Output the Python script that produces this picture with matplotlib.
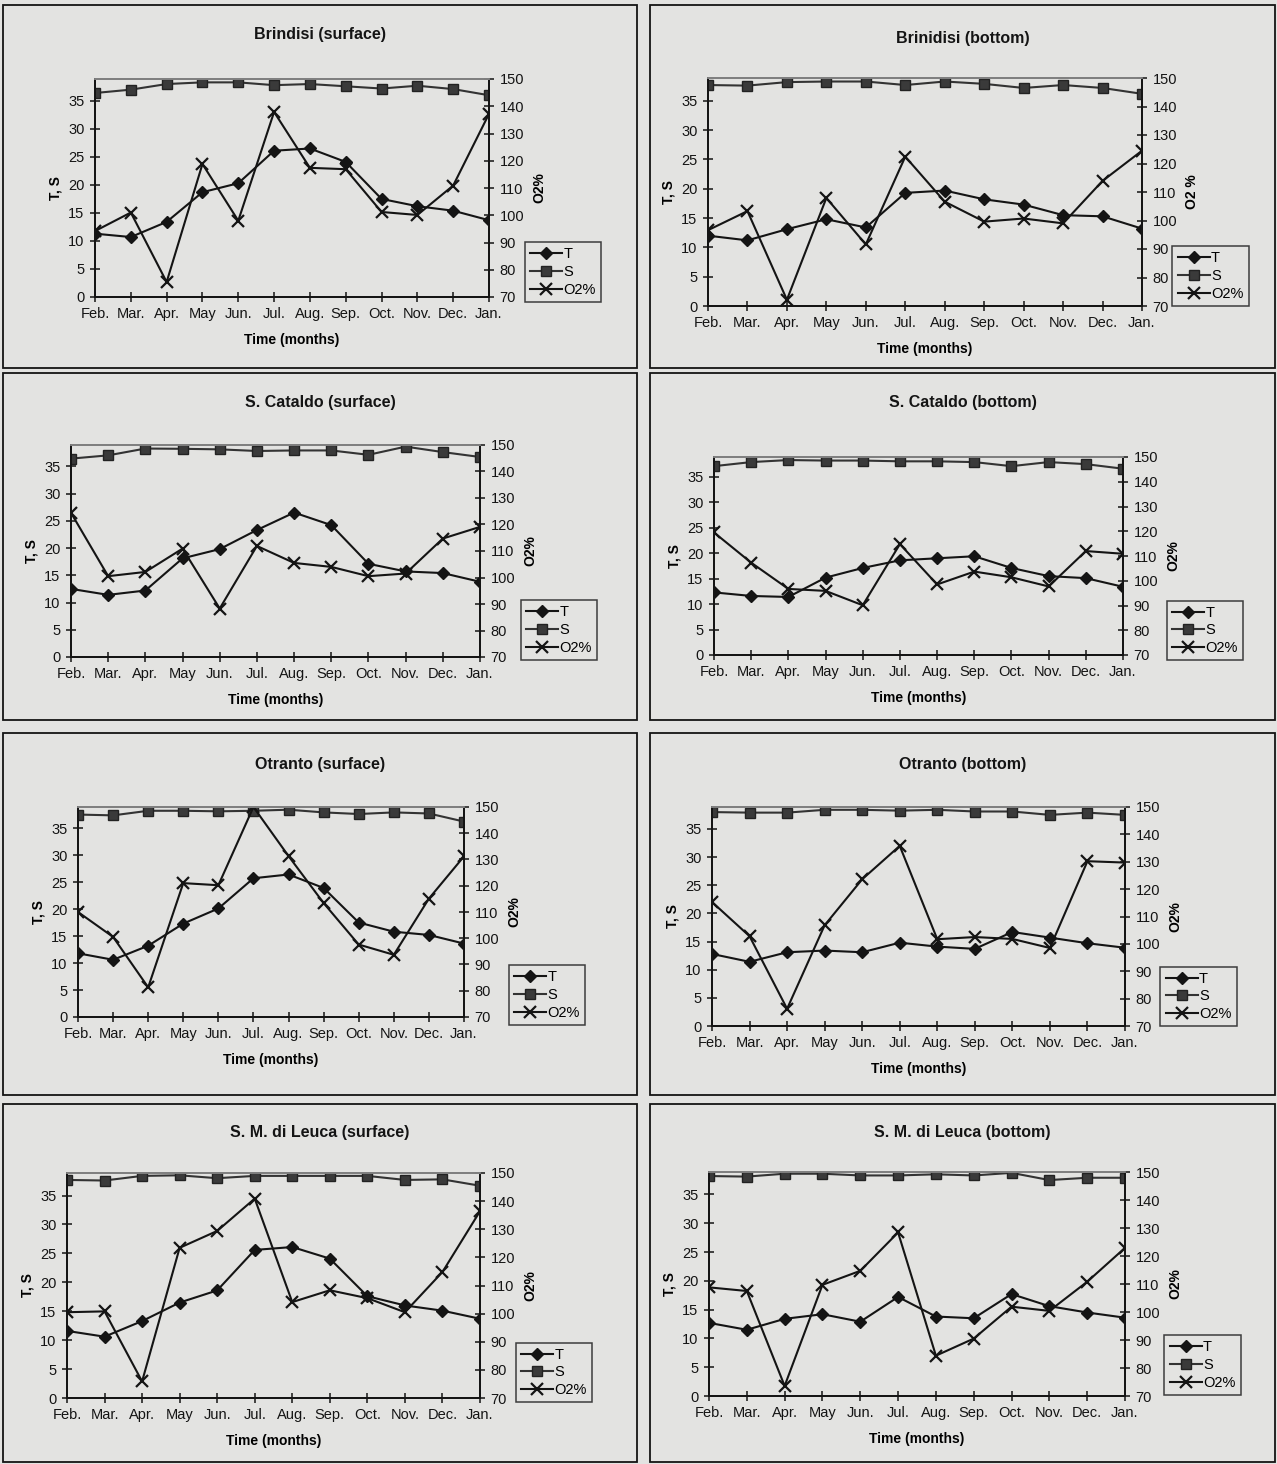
"""Seasonal T, S and dissolved O2 at four stations, surface and bottom."""
import matplotlib
matplotlib.use("Agg")
import matplotlib.pyplot as plt
from matplotlib.patches import Rectangle

W, H = 1277, 1464
BG = "#e3e3e1"
INK = "#141414"
FONT = ["Liberation Sans Narrow", "Liberation Sans", "DejaVu Sans"]
plt.rcParams["font.family"] = FONT

months = ["Feb.", "Mar.", "Apr.", "May", "Jun.", "Jul.", "Aug.", "Sep.", "Oct.", "Nov.", "Dec.", "Jan."]

# temperature (°C), salinity (‰) and O2 saturation (%) per station
brindisi_surf_T = [11.3, 10.7, 13.4, 18.7, 20.3, 26.1, 26.5, 24.1, 17.5, 16.2, 15.4, 13.7]
brindisi_surf_S = [36.4, 37.0, 38.0, 38.3, 38.3, 37.8, 38.0, 37.6, 37.2, 37.7, 37.1, 36.0]
brindisi_surf_O2 = [94.2, 101.0, 75.5, 118.8, 98.0, 137.9, 117.4, 116.9, 101.2, 100.1, 110.9, 137.2]

brindisi_bot_T = [12.0, 11.2, 13.1, 14.8, 13.4, 19.3, 19.7, 18.2, 17.3, 15.5, 15.3, 13.2]
brindisi_bot_S = [37.7, 37.6, 38.2, 38.3, 38.3, 37.7, 38.3, 37.9, 37.2, 37.7, 37.2, 36.2]
brindisi_bot_O2 = [96.6, 103.3, 72.2, 107.9, 91.6, 122.4, 106.6, 99.6, 100.7, 99.0, 113.9, 124.5]

cataldo_surf_T = [12.5, 11.4, 12.2, 18.1, 19.8, 23.3, 26.5, 24.2, 17.1, 15.7, 15.4, 13.8]
cataldo_surf_S = [36.4, 37.0, 38.25, 38.2, 38.1, 37.8, 37.9, 37.9, 37.1, 38.6, 37.6, 36.7]
cataldo_surf_O2 = [124.4, 100.5, 102.1, 110.9, 88.3, 111.9, 105.5, 104.0, 100.5, 101.5, 114.7, 119.1]

cataldo_bot_T = [12.3, 11.6, 11.4, 15.2, 17.1, 18.6, 19.0, 19.4, 17.1, 15.5, 15.1, 13.4]
cataldo_bot_S = [37.1, 37.9, 38.3, 38.2, 38.2, 38.05, 38.05, 37.9, 37.1, 37.9, 37.5, 36.6]
cataldo_bot_O2 = [119.5, 107.3, 96.7, 95.9, 90.1, 114.8, 98.5, 103.7, 101.4, 97.7, 112.0, 110.9]

otranto_surf_T = [11.8, 10.6, 13.2, 17.3, 20.1, 25.7, 26.4, 23.9, 17.5, 15.8, 15.2, 13.6]
otranto_surf_S = [37.5, 37.35, 38.2, 38.2, 38.1, 38.2, 38.4, 37.9, 37.6, 37.9, 37.7, 36.2]
otranto_surf_O2 = [110.0, 100.5, 81.3, 121.0, 120.2, 150.0, 131.3, 113.4, 97.6, 93.7, 115.1, 131.2]

otranto_bot_T = [12.8, 11.4, 13.1, 13.4, 13.1, 14.8, 14.1, 13.7, 16.7, 15.7, 14.7, 13.9]
otranto_bot_S = [38.0, 37.9, 37.9, 38.4, 38.4, 38.25, 38.4, 38.1, 38.1, 37.5, 37.9, 37.5]
otranto_bot_O2 = [115.3, 102.8, 76.3, 106.8, 123.6, 135.8, 101.7, 102.5, 101.8, 98.5, 130.2, 129.7]

leuca_surf_T = [11.6, 10.6, 13.3, 16.5, 18.6, 25.6, 26.1, 24.1, 17.6, 16.0, 15.1, 13.7]
leuca_surf_S = [37.7, 37.6, 38.4, 38.5, 38.0, 38.4, 38.4, 38.4, 38.4, 37.7, 37.8, 36.7]
leuca_surf_O2 = [100.5, 100.8, 75.9, 123.4, 129.4, 140.9, 104.1, 108.3, 105.5, 100.5, 114.8, 136.4]

leuca_bot_T = [12.7, 11.5, 13.4, 14.2, 12.9, 17.2, 13.8, 13.5, 17.7, 15.6, 14.5, 13.6]
leuca_bot_S = [38.2, 38.1, 38.6, 38.6, 38.3, 38.3, 38.5, 38.3, 38.75, 37.5, 37.9, 37.9]
leuca_bot_O2 = [108.8, 107.5, 73.6, 109.7, 114.7, 128.4, 84.4, 90.5, 101.9, 100.4, 110.8, 122.9]

titles = ["Brindisi (surface)", "Brinidisi (bottom)",
          "S. Cataldo (surface)", "S. Cataldo (bottom)",
          "Otranto (surface)", "Otranto (bottom)",
          "S. M. di Leuca (surface)", "S. M. di Leuca (bottom)"]
o2_labels = ["O2%", "O2 %", "O2%", "O2%", "O2%", "O2%", "O2%", "O2%"]
series = [
    (brindisi_surf_T, brindisi_surf_S, brindisi_surf_O2),
    (brindisi_bot_T, brindisi_bot_S, brindisi_bot_O2),
    (cataldo_surf_T, cataldo_surf_S, cataldo_surf_O2),
    (cataldo_bot_T, cataldo_bot_S, cataldo_bot_O2),
    (otranto_surf_T, otranto_surf_S, otranto_surf_O2),
    (otranto_bot_T, otranto_bot_S, otranto_bot_O2),
    (leuca_surf_T, leuca_surf_S, leuca_surf_O2),
    (leuca_bot_T, leuca_bot_S, leuca_bot_O2),
]

# layout in pixels: panel frame, plot area (x0, x1, y0, y1), legend box, title y
frames = [(3, 637, 5, 368), (650, 1275, 5, 368),
          (3, 637, 373, 720), (650, 1275, 373, 720),
          (3, 637, 733, 1095), (650, 1275, 733, 1095),
          (3, 637, 1104, 1462), (650, 1275, 1104, 1462)]
plots = [(95, 489, 79, 297), (708, 1142, 78, 306),
         (71, 480, 445, 657), (714, 1123, 457, 655),
         (78, 464, 807, 1017), (712, 1125, 807, 1026),
         (67, 480, 1173, 1398), (709, 1125, 1172, 1396)]
legends = [(524, 602, 240, 304), (1172, 1249, 247, 305),
           (519, 599, 598, 662), (1166, 1244, 599, 662),
           (507, 587, 963, 1027), (1160, 1237, 965, 1028),
           (514, 594, 1341, 1404), (1164, 1241, 1333, 1397)]
title_y = [35, 39, 402, 403, 764, 764, 1133, 1132]


def fx(px):
    return px / W


def fy(py):
    return 1 - py / H


fig = plt.figure(figsize=(W / 100, H / 100), dpi=100, facecolor=BG)

for i, (T, S, O2) in enumerate(series):
    f = frames[i]
    fig.patches.append(Rectangle((fx(f[0]), fy(f[3])), fx(f[1] - f[0]), (f[3] - f[2]) / H,
                                 transform=fig.transFigure, fill=False, ec=INK, lw=1.3))
    fig.text(fx((f[0] + f[1]) / 2), fy(title_y[i]), titles[i], ha="center", va="center",
             fontsize=11.5, fontweight="bold", family=["Liberation Sans", "DejaVu Sans"], color=INK)

    p = plots[i]
    ax = fig.add_axes([fx(p[0]), fy(p[3]), fx(p[1] - p[0]), (p[3] - p[2]) / H])
    ax.set_facecolor(BG)
    x = range(len(months))
    hT, = ax.plot(x, T, color=INK, lw=1.5, marker="D", ms=6, mfc=INK, mec=INK, label="T")
    hS, = ax.plot(x, S, color="#333333", lw=1.5, marker="s", ms=7, mfc="#3a3a3a", mec="#222222", label="S")
    ax.set_xlim(0, 11)
    ax.set_ylim(0, 38.9)
    ax.set_yticks(range(0, 40, 5))
    ax.set_xticks(list(x))
    ax.set_xticklabels(months)
    ax.tick_params(direction="inout", length=7, width=1.1, labelsize=10.5, colors=INK, pad=4)
    ax.set_ylabel("T, S", fontsize=10, fontweight="bold", family=["Liberation Sans", "DejaVu Sans"], labelpad=4)
    ax.set_xlabel("Time (months)", fontsize=10, fontweight="bold", family=["Liberation Sans", "DejaVu Sans"], labelpad=8)

    ax2 = ax.twinx()
    hO, = ax2.plot(x, O2, color=INK, lw=1.5, marker="x", ms=9, mew=1.6, label="O2%")
    ax2.set_ylim(70, 150)
    ax2.set_yticks(range(70, 151, 10))
    ax2.tick_params(direction="inout", length=7, width=1.1, labelsize=10.5, colors=INK, pad=4)
    ax2.set_ylabel(o2_labels[i], fontsize=10, fontweight="bold", family=["Liberation Sans", "DejaVu Sans"], labelpad=6)
    for a in (ax, ax2):
        for s in a.spines.values():
            s.set_color(INK)
            s.set_linewidth(1.3)
    ax2.spines["top"].set_color("#8a8a8a")

    lg = legends[i]
    leg = ax2.legend([hT, hS, hO], ["T", "S", "O2%"], loc="center",
                     bbox_to_anchor=(fx((lg[0] + lg[1]) / 2), fy((lg[2] + lg[3]) / 2)),
                     bbox_transform=fig.transFigure, fontsize=10.5, frameon=True, fancybox=False,
                     handlelength=2.2, handletextpad=0.1, borderpad=0.35, labelspacing=0.25,
                     borderaxespad=0)
    leg.get_frame().set_edgecolor(INK)
    leg.get_frame().set_facecolor(BG)
    leg.get_frame().set_linewidth(1.1)

fig.savefig("out.png", dpi=100, facecolor=BG)
